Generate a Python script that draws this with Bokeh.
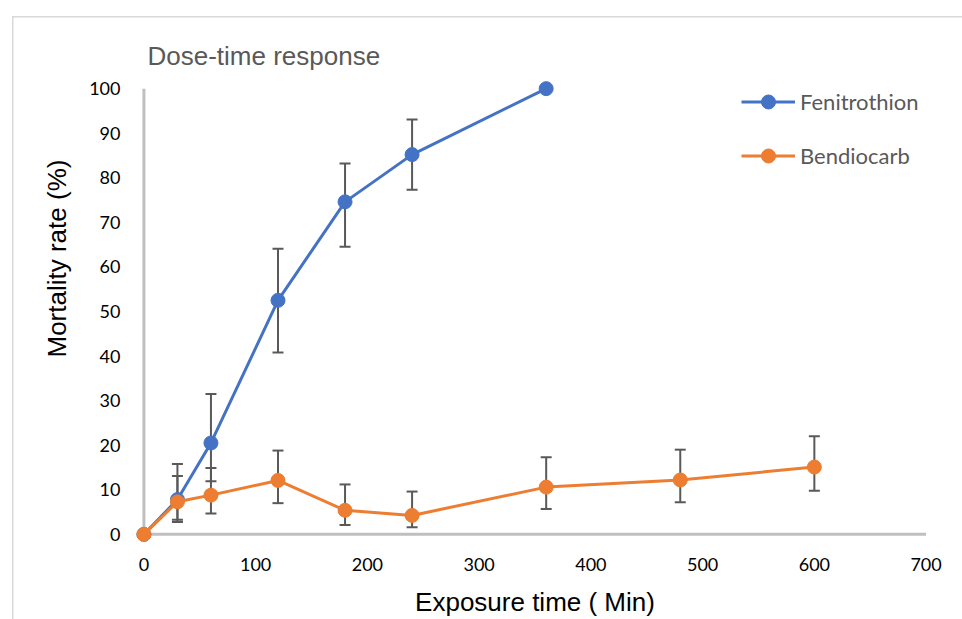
from bokeh.plotting import figure
from bokeh.models import (ColumnDataSource, Whisker, TeeHead, Legend, LegendItem,
                          FixedTicker, Range1d, Title)
from bokeh.embed import file_html
from bokeh.resources import INLINE

# ---- data ----
fen_time = [0, 30, 60, 120, 180, 240, 360]
fen_rate = [0, 7.8, 20.5, 52.5, 74.6, 85.2, 100]
fen_low = [0, 3.3, 11.9, 40.8, 64.5, 77.3, 100]
fen_high = [0, 15.8, 31.5, 64.1, 83.2, 93.1, 100]

bend_time = [0, 30, 60, 120, 180, 240, 360, 480, 600]
bend_rate = [0, 7.3, 8.8, 12.1, 5.4, 4.25, 10.6, 12.2, 15.1]
bend_low = [0, 2.8, 4.7, 7.0, 2.1, 1.6, 5.7, 7.2, 9.8]
bend_high = [0, 13.1, 14.9, 18.8, 11.2, 9.6, 17.3, 19.0, 22.0]

x_ticks = [0, 100, 200, 300, 400, 500, 600, 700]
y_ticks = [0, 10, 20, 30, 40, 50, 60, 70, 80, 90, 100]

title_text = "Dose-time response"
x_title = "Exposure time ( Min)"
y_title = "Mortality rate (%)"

BLUE = "#4472C4"
ORANGE = "#ED7D31"
AXIS = "#BFBFBF"
ERR = "#595959"
BORDER = "#D9D9D9"

p = figure(width=962, height=619, output_backend="svg", toolbar_location=None,
           x_range=Range1d(-12, 712), y_range=Range1d(-2.5, 102.5),
           min_border_left=130, min_border_right=23, min_border_top=77,
           min_border_bottom=73)
p.outline_line_color = None
p.xgrid.visible = False
p.ygrid.visible = False
p.background_fill_color = None
p.border_fill_color = None
p.styles = {
    "background-color": "white",
    "background-image": f"linear-gradient({BORDER},{BORDER}), linear-gradient({BORDER},{BORDER})",
    "background-size": "1.5px 100%, 100% 1.5px",
    "background-position": "12px 16px, 12px 16px",
    "background-repeat": "no-repeat",
}

# title
p.title.text = title_text
p.title.align = "left"
p.title.offset = 17
p.title.standoff = 14
p.title.text_font = "Liberation Sans"
p.title.text_font_size = "26px"
p.title.text_font_style = "normal"
p.title.text_color = "#595959"

# axes (lines drawn separately at the data origin)
for ax, ticks in ((p.xaxis[0], x_ticks), (p.yaxis[0], y_ticks)):
    ax.ticker = FixedTicker(ticks=ticks)
    ax.axis_line_color = None
    ax.major_tick_line_color = None
    ax.minor_tick_line_color = None
    ax.major_tick_out = 0
    ax.major_tick_in = 0
    ax.major_label_text_font = "Lato"
    ax.major_label_text_font_size = "18px"
    ax.major_label_text_color = "black"
    ax.axis_label_text_font = "Liberation Sans"
    ax.axis_label_text_font_size = "26px"
    ax.axis_label_text_font_style = "normal"
    ax.axis_label_text_color = "black"

p.xaxis.axis_label = x_title
p.xaxis.major_label_standoff = 12
p.yaxis.major_label_standoff = 10
p.xaxis.axis_label_standoff = 13

# y-axis title (placed off-centre, as in the original)
p.add_layout(Title(text=y_title, align="left", offset=188, standoff=30,
                   text_font="Liberation Sans", text_font_size="26px",
                   text_font_style="normal", text_color="black"), "left")

# axis lines along the data origin
p.segment(x0=[x_ticks[0]], y0=[y_ticks[0]], x1=[x_ticks[-1]], y1=[y_ticks[0]],
          line_color=AXIS, line_width=3, level="underlay")
p.segment(x0=[x_ticks[0]], y0=[y_ticks[0]], x1=[x_ticks[0]], y1=[y_ticks[-1]],
          line_color=AXIS, line_width=3, level="underlay")

# error bars
def whisker_source(t, low, high):
    idx = [i for i in range(len(t)) if high[i] > low[i]]
    return ColumnDataSource(dict(x=[t[i] for i in idx],
                                 lo=[low[i] for i in idx],
                                 hi=[high[i] for i in idx]))

for t, lo, hi in ((fen_time, fen_low, fen_high), (bend_time, bend_low, bend_high)):
    src = whisker_source(t, lo, hi)
    w = Whisker(base="x", lower="lo", upper="hi", source=src, level="underlay",
                line_color=ERR, line_width=2,
                upper_head=TeeHead(size=11, line_color=ERR, line_width=2),
                lower_head=TeeHead(size=11, line_color=ERR, line_width=2))
    p.add_layout(w)

fen_src = ColumnDataSource(dict(x=fen_time, y=fen_rate))
bend_src = ColumnDataSource(dict(x=bend_time, y=bend_rate))

fl = p.line("x", "y", source=fen_src, line_color=BLUE, line_width=3)
fs = p.scatter("x", "y", source=fen_src, size=14, fill_color=BLUE, line_color=BLUE)
bl = p.line("x", "y", source=bend_src, line_color=ORANGE, line_width=3)
bs = p.scatter("x", "y", source=bend_src, size=14, fill_color=ORANGE, line_color=ORANGE)

legend = Legend(items=[LegendItem(label="Fenitrothion", renderers=[fl, fs]),
                       LegendItem(label="Bendiocarb", renderers=[bl, bs])],
                location=(611, 372), orientation="vertical",
                glyph_width=54, glyph_height=35, label_height=35,
                spacing=19, padding=0, margin=0, label_standoff=5,
                label_text_font="Lato", label_text_font_size="22px",
                label_text_color="#595959",
                border_line_color=None, background_fill_alpha=0)
p.add_layout(legend, "center")

open("out.html", "w").write(file_html(p, INLINE))
